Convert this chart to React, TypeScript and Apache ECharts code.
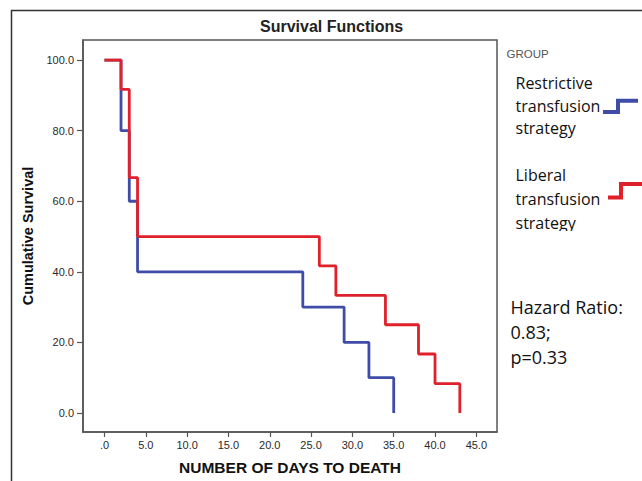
import React, { useEffect, useRef } from 'react';
import * as echarts from 'echarts';

const chartTitle = 'Survival Functions';
const xAxisName = 'NUMBER OF DAYS TO DEATH';
const yAxisName = 'Cumulative Survival';
const legendTitle = 'GROUP';
const groupLabels = ['Restrictive\ntransfusion\nstrategy', 'Liberal\ntransfusion\nstrategy'];
const hazardLabel = 'Hazard Ratio:\n0.83;\np=0.33';

const restrictiveDays = [0, 2, 3, 4, 24, 29, 32, 35];
const restrictiveSurvival = [100, 80, 60, 40, 30, 20, 10, 0];
const liberalDays = [0, 2, 3, 4, 26, 28, 34, 38, 40, 43];
const liberalSurvival = [100, 91.7, 66.7, 50, 41.7, 33.3, 25, 16.7, 8.3, 0];

const xTicks = [0, 5, 10, 15, 20, 25, 30, 35, 40, 45];
const yTicks = [0, 20, 40, 60, 80, 100];

const BLUE = '#3F4DA8';
const RED = '#E0212B';
const AXIS = '#555555';

export default function App() {
  const ref = useRef<HTMLDivElement>(null);
  useEffect(() => {
    document.body.style.margin = '0';
    if (!ref.current) return;
    const chart = echarts.init(ref.current, undefined, { renderer: 'svg' });
    const restrictiveData = restrictiveDays.map((d, i) => [d, restrictiveSurvival[i]]);
    const liberalData = liberalDays.map((d, i) => [d, liberalSurvival[i]]);
    chart.setOption({
      animation: false,
      backgroundColor: '#ffffff',
      title: {
        text: chartTitle,
        left: 260,
        top: 18,
        padding: 0,
        textStyle: { fontFamily: 'Liberation Sans', fontWeight: 'bold', fontSize: 16, color: '#222' },
      },
      grid: {
        left: 83,
        top: 40,
        width: 414,
        height: 392,
        show: true,
        borderColor: AXIS,
        borderWidth: 1.5,
        backgroundColor: 'transparent',
      },
      xAxis: {
        type: 'value',
        min: -2.6,
        max: 47.5,
        name: xAxisName,
        nameLocation: 'middle',
        nameGap: 27,
        nameTextStyle: { fontFamily: 'Liberation Sans', fontWeight: 'bold', fontSize: 15.5, color: '#111' },
        axisLine: { onZero: false, lineStyle: { color: AXIS, width: 1.5 } },
        axisTick: { show: true, length: 5, customValues: xTicks, lineStyle: { color: AXIS, width: 1.2 } },
        axisLabel: {
          customValues: xTicks,
          margin: 7,
          fontFamily: 'Liberation Sans',
          fontSize: 11,
          color: '#2a2a2a',
          formatter: (v: number) => (v === 0 ? '.0' : v.toFixed(1)),
        },
        splitLine: { show: false },
      },
      yAxis: {
        type: 'value',
        min: -5.4,
        max: 105.7,
        name: yAxisName,
        nameLocation: 'middle',
        nameGap: 47,
        nameTextStyle: { fontFamily: 'Liberation Sans', fontWeight: 'bold', fontSize: 14.5, color: '#111' },
        axisLine: { show: true, onZero: false, lineStyle: { color: AXIS, width: 1.5 } },
        axisTick: { show: true, length: 6, customValues: yTicks, lineStyle: { color: AXIS, width: 1.2 } },
        axisLabel: {
          customValues: yTicks,
          margin: 9,
          fontFamily: 'Liberation Sans',
          fontSize: 11,
          color: '#2a2a2a',
          formatter: (v: number) => v.toFixed(1),
        },
        splitLine: { show: false },
      },
      series: [
        {
          name: 'Restrictive transfusion strategy',
          type: 'line',
          step: 'end',
          data: restrictiveData,
          symbol: 'none',
          lineStyle: { color: BLUE, width: 2.8 },
          itemStyle: { color: BLUE },
          z: 2,
        },
        {
          name: 'Liberal transfusion strategy',
          type: 'line',
          step: 'end',
          data: liberalData,
          symbol: 'none',
          lineStyle: { color: RED, width: 2.8 },
          itemStyle: { color: RED },
          z: 3,
        },
      ],
      graphic: [
        {
          type: 'polyline',
          shape: { points: [[11.5, 481], [11.5, 10.5], [642, 10.5]] },
          style: { stroke: '#333', lineWidth: 1.5, fill: 'none' },
          silent: true,
        },
        {
          type: 'text',
          x: 506.5,
          y: 53.5,
          style: {
            text: legendTitle,
            fontFamily: 'Liberation Sans',
            fontSize: 11.5,
            fill: '#555',
            verticalAlign: 'middle',
          },
        },
        {
          type: 'text',
          x: 515.5,
          y: 72,
          style: {
            text: groupLabels[0],
            fontFamily: 'Open Sans',
            fontSize: 16,
            lineHeight: 22.5,
            fill: '#111',
            verticalAlign: 'top',
          },
        },
        {
          type: 'text',
          x: 515.5,
          y: 162.5,
          style: {
            text: groupLabels[1],
            fontFamily: 'Open Sans',
            fontSize: 16,
            lineHeight: 24,
            fill: '#111',
            verticalAlign: 'top',
          },
        },
        {
          type: 'rect',
          shape: { x: 505, y: 231, width: 100, height: 14 },
          style: { fill: '#ffffff' },
          z: 100,
        },
        {
          type: 'polyline',
          shape: { points: [[603, 112], [618, 112], [618, 100.7], [638, 100.7]] },
          style: { stroke: BLUE, lineWidth: 4, fill: 'none' },
        },
        {
          type: 'polyline',
          shape: { points: [[608, 197.5], [621, 197.5], [621, 184], [642, 184]] },
          style: { stroke: RED, lineWidth: 4, fill: 'none' },
        },
        {
          type: 'text',
          x: 510.5,
          y: 294,
          style: {
            text: hazardLabel,
            fontFamily: 'Open Sans',
            fontSize: 18,
            lineHeight: 25,
            fill: '#111',
            verticalAlign: 'top',
          },
        },
      ],
    });
    return () => chart.dispose();
  }, []);
  return <div ref={ref} style={{ width: 642, height: 481 }} />;
}
